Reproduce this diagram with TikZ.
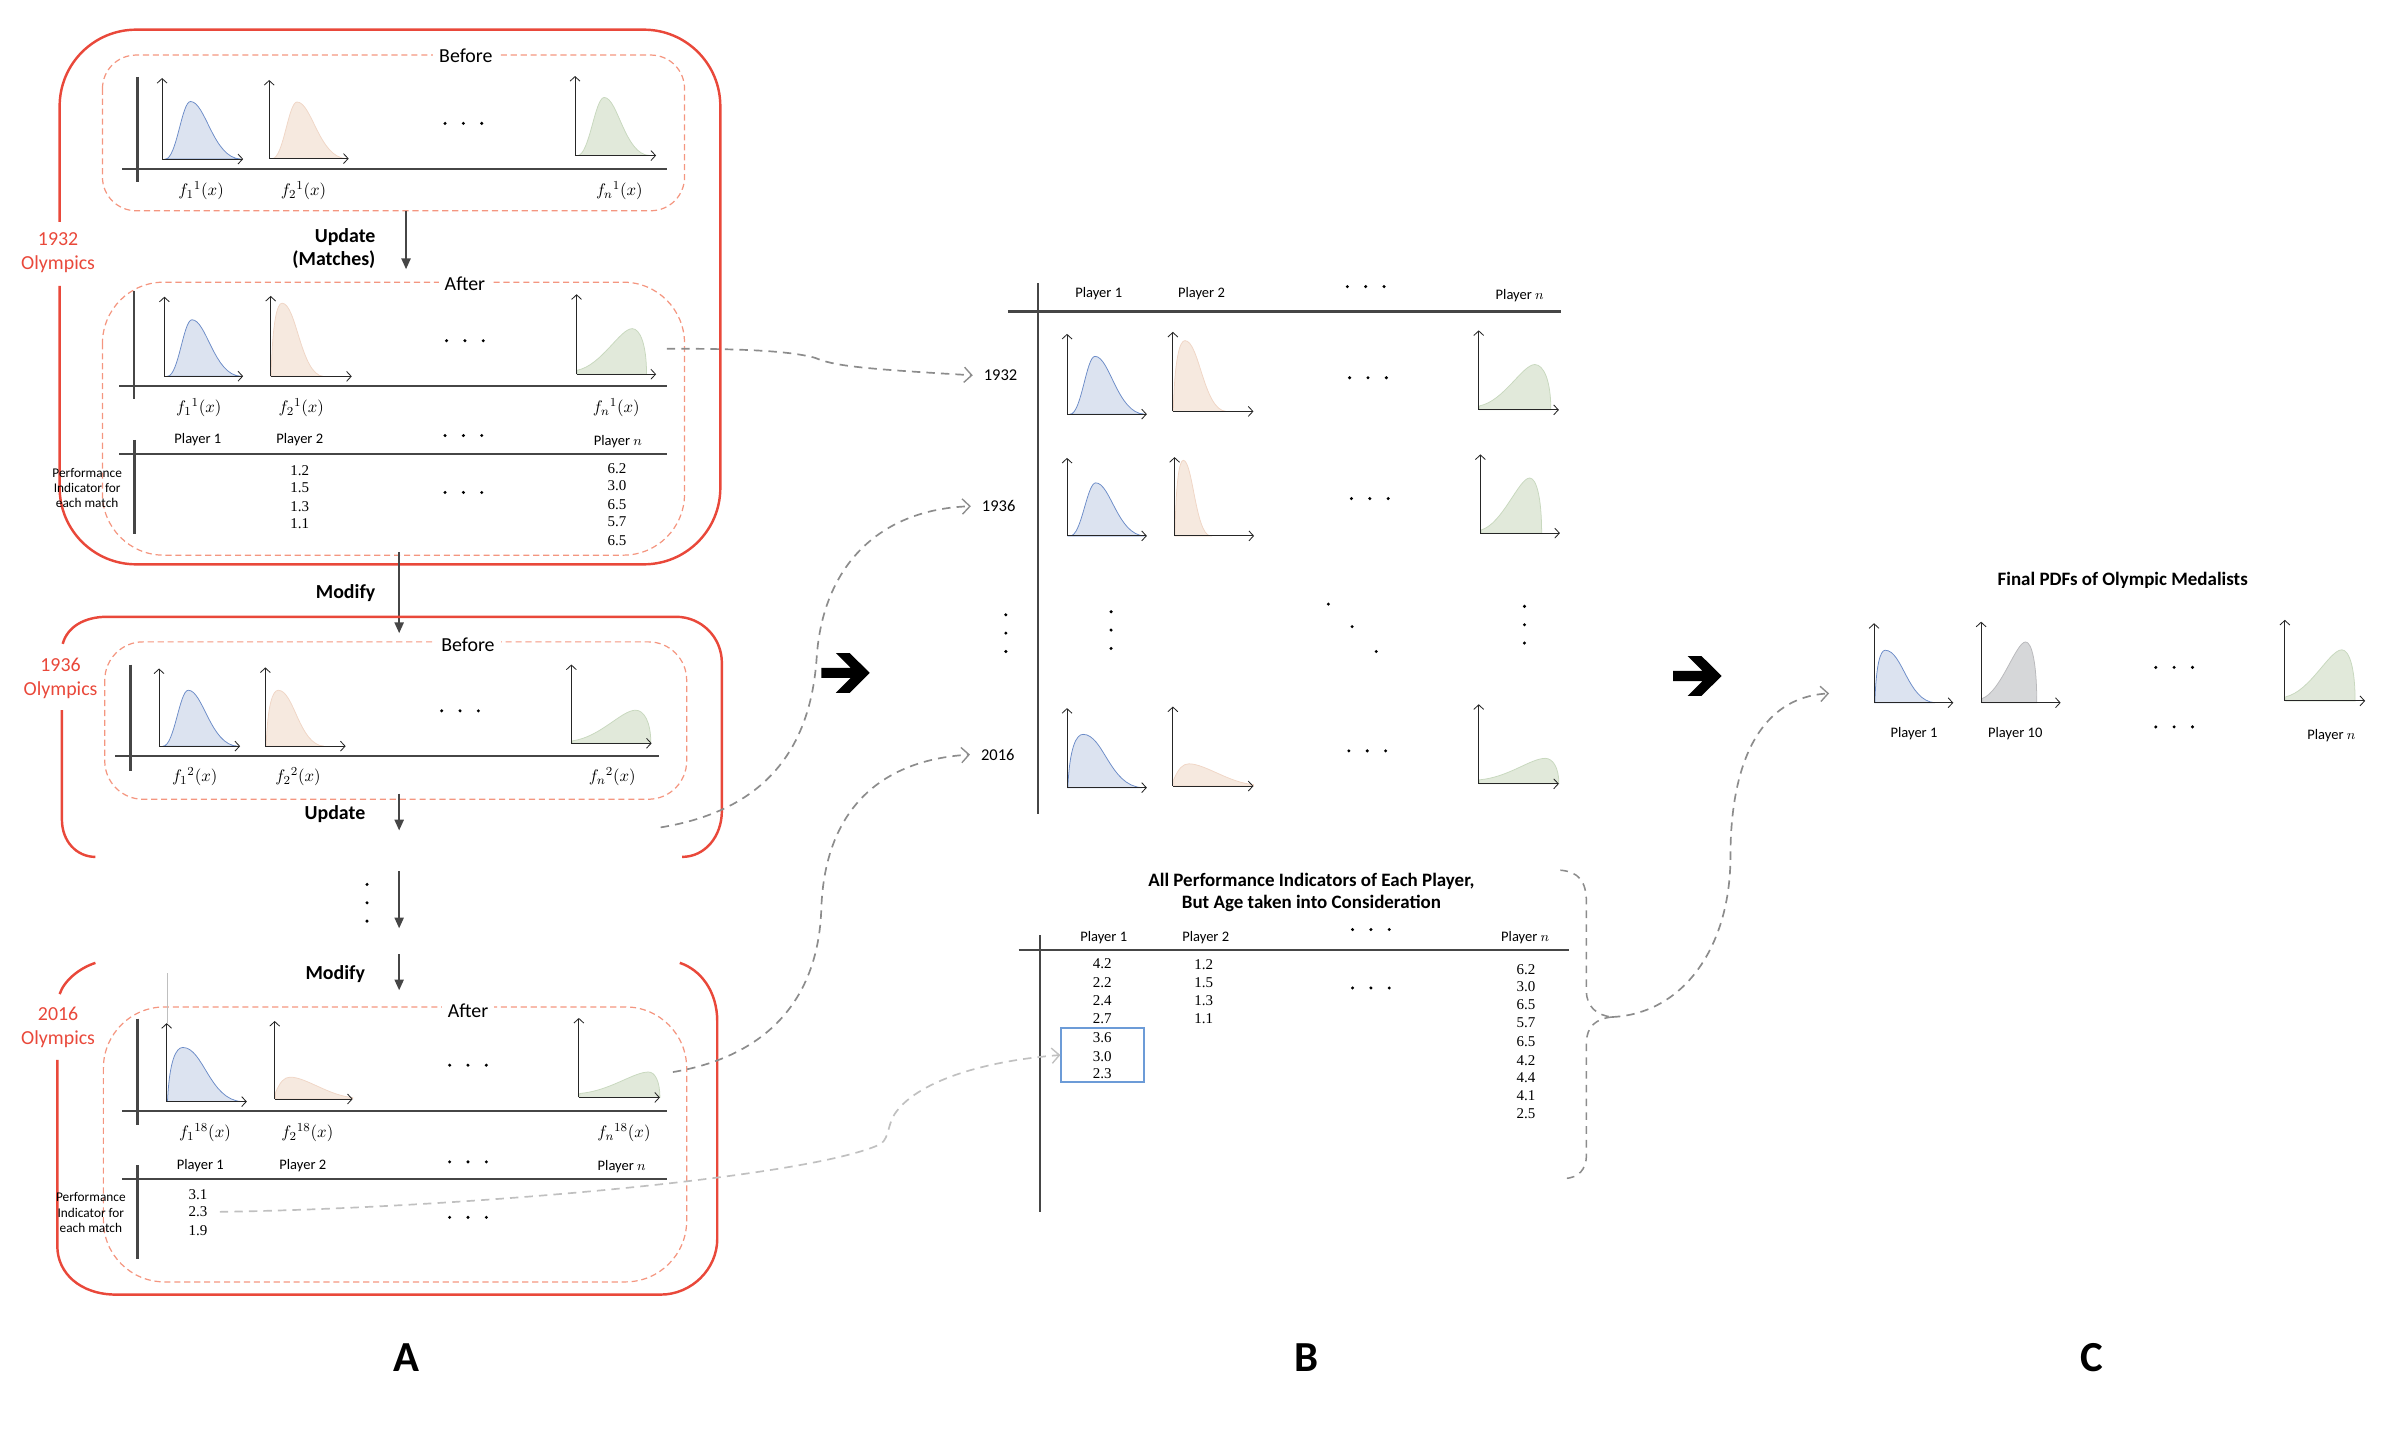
\documentclass[tikz,border=0pt]{standalone}
\usepackage{fontspec}
\setmainfont{Carlito}
\newfontfamily\numf{Liberation Serif}
\usetikzlibrary{arrows.meta}

\definecolor{oRed}{RGB}{233,72,58}
\definecolor{oSalmon}{RGB}{244,150,128}
\definecolor{bFill}{RGB}{220,227,240}
\definecolor{bLine}{RGB}{108,140,200}
\definecolor{pFill}{RGB}{246,233,223}
\definecolor{pLine}{RGB}{240,214,198}
\definecolor{gFill}{RGB}{225,233,218}
\definecolor{gLine}{RGB}{200,216,190}
\definecolor{kFill}{RGB}{214,215,217}
\definecolor{kLine}{RGB}{185,185,188}
\definecolor{axC}{RGB}{70,70,70}
\definecolor{cnC}{RGB}{140,140,140}
\definecolor{cnL}{RGB}{192,192,192}
\definecolor{boxB}{RGB}{108,155,215}

\tikzset{
 bluep/.style={fill=bFill, draw=bLine, line width=0.5pt},
 peachp/.style={fill=pFill, draw=pLine, line width=0.5pt},
 greenp/.style={fill=gFill, draw=gLine, line width=0.5pt},
 grayp/.style={fill=kFill, draw=kLine, line width=0.5pt},
 mini/.style={draw=black!85, line width=0.55pt, -{Straight Barb[length=3pt,width=6.5pt]}},
 bigax/.style={draw=axC, line width=1.5pt},
 olymp/.style={draw=oRed, line width=1.6pt},
 innerbox/.style={draw=oSalmon, line width=0.8pt, dash pattern=on 4pt off 2.5pt},
 conn/.style={draw=cnC, line width=1.1pt, dash pattern=on 5.5pt off 4pt, -{Straight Barb[length=5pt,width=10pt,line width=0.9pt]}},
 connl/.style={conn, draw=cnL},
 bracel/.style={draw=cnC, line width=1pt, dash pattern=on 5pt off 4pt},
 flow/.style={draw=axC, line width=1.1pt, -{Triangle[length=7pt,width=6pt]}},
 olab/.style={text=oRed, font=\fontsize{13}{16}\selectfont, align=center},
 tag/.style={font=\fontsize{13}{15}\selectfont, fill=white, inner sep=4pt},
 act/.style={font=\bfseries\fontsize{13}{15.5}\selectfont, align=right},
 fl/.style={font=\fontsize{11}{13}\selectfont},
 ph/.style={font=\fontsize{9.5}{11}\selectfont},
 num/.style={font=\numf\fontsize{9.8}{11}\selectfont, inner sep=1pt},
 perf/.style={font=\fontsize{8.7}{10}\selectfont, align=center},
 yr/.style={font=\fontsize{10.8}{12}\selectfont, inner sep=1pt},
 ttl/.style={font=\bfseries\fontsize{12.4}{14.2}\selectfont, align=center},
 panel/.style={font=\bfseries\fontsize{28}{30}\selectfont},
}

\newcommand\mplot[5]{\begin{scope}[shift={(#1,#2)},x=#3pt,y=#4pt]#5\draw[mini](0,0)--(0,1);\draw[mini](0,0)--(1,0);\end{scope}}
\newcommand\bellc[5]{\filldraw[#1] (#2,0) .. controls ({#2+0.45*(#3-#2)},0) and ({#3-0.35*(#3-#2)},#4) .. (#3,#4) .. controls ({#3+0.3*(#5-#3)},#4) and ({#3+0.45*(#5-#3)},0.01) .. (#5,0) -- cycle;}
\newcommand\skewr[5]{\filldraw[#1] (#2,0) .. controls ({#2+0.12*(#3-#2)},{0.75*#4}) and ({#3-0.45*(#3-#2)},#4) .. (#3,#4) .. controls ({#3+0.35*(#5-#3)},#4) and ({#3+0.45*(#5-#3)},0.02) .. (#5,0) -- cycle;}
\newcommand\skewl[5]{\filldraw[#1] (0.01,0) -- (0.01,#2) .. controls ({0.45*#3},{#2+0.12*(#4-#2)}) and ({0.78*#3},#4) .. (#3,#4) .. controls ({#3+0.55*(#5-#3)},#4) and (#5,{0.65*#4}) .. (#5,0) -- cycle;}
\newcommand\lowp[1]{\filldraw[#1] (0.01,0) -- (0.01,0.08) .. controls (0.07,0.22) and (0.12,0.28) .. (0.2,0.28) .. controls (0.4,0.28) and (0.7,0.04) .. (1,0.02) -- (1,0) -- cycle;}
\newcommand\hdts[2]{\foreach \q in {-12,0,12}{\fill ({#1+\q},#2) circle (1.1pt);}}
\newcommand\vdts[2]{\foreach \q in {-12,0,12}{\fill (#1,{#2+\q}) circle (1.1pt);}}
\newcommand\bigarrow[2]{\begin{scope}[shift={(#1,#2)}]\fill[black] (-16,-3.3) -- (3.2,-3.3) -- (-6.5,-13) -- (2.6,-13) -- (15.7,0) -- (2.6,13) -- (-6.5,13) -- (3.2,3.3) -- (-16,3.3) -- cycle;\end{scope}}

\begin{document}
\begin{tikzpicture}[x=1pt,y=-1pt]
\useasboundingbox (0,0) rectangle (1568,934);

%%%%%%%%%%%%%%%% PANEL A : 1932
\draw[olymp, rounded corners=50pt] (39,145) -- (39,19.4) -- (471,19.4) -- (471,369) -- (39,369) -- (39,187);
\node[olab] (o1932) at (38,165.3) {1932\\Olympics};

\draw[innerbox, rounded corners=22pt] (67,36) rectangle (447.6,137.8);
\node[tag] (bef1) at (304.6,36.5) {Before};
\draw[bigax] (90,50.3) -- (90,119);
\draw[bigax] (80,110.6) -- (436,110.6);
\mplot{106}{104}{53}{53}{\bellc{bluep}{0.04}{0.35}{0.71}{0.97}}
\mplot{176}{103.7}{52}{51.4}{\bellc{peachp}{0.04}{0.35}{0.72}{0.97}}
\mplot{376}{101.7}{53}{52}{\bellc{greenp}{0.03}{0.36}{0.73}{0.92}}
\hdts{303}{80.7}
\node[fl] (fa1) at (131.5,124.7) {$f_1{}^{1}(x)$};
\node[fl] (fa2) at (198.5,124.7) {$f_2{}^{1}(x)$};
\node[fl] (fan) at (405,124.7) {$f_n{}^{1}(x)$};

\coordinate (u1s) at (265.5,137.8);
\coordinate (u1e) at (265.5,176);
\draw[flow] (u1s) -- (u1e);
\node[act, anchor=east] (upd1) at (249,162.5) {Update\\(Matches)};

\draw[innerbox, rounded corners=40pt] (67,184.5) rectangle (447.6,363);
\node[tag] (aft1) at (304,185.6) {After};
\draw[bigax] (87.7,190) -- (87.7,261);
\draw[bigax] (78,252.6) -- (436,252.6);
\mplot{107.5}{246}{51.5}{52}{\bellc{bluep}{0.04}{0.35}{0.71}{0.97}}
\mplot{177}{246.1}{53}{52.6}{\skewr{peachp}{0.005}{0.14}{0.91}{0.65}}
\mplot{377}{244.7}{52}{52.3}{\skewl{greenp}{0.05}{0.70}{0.57}{0.88}}
\coordinate (c1s) at (436,228);
\hdts{304}{222.8}
\node[fl] (fb1) at (130,266.8) {$f_1{}^{1}(x)$};
\node[fl] (fb2) at (197,266.8) {$f_2{}^{1}(x)$};
\node[fl] (fbn) at (403,266.8) {$f_n{}^{1}(x)$};

\node[ph] (ta1) at (129.4,287.5) {Player 1};
\node[ph] (ta2) at (196,287.5) {Player 2};
\node[ph] (tan) at (404,288.5) {Player $n$};
\hdts{303}{284.8}
\draw[bigax] (78,297) -- (436,297);
\draw[bigax] (88,287.7) -- (88,349);
\node[perf] (perf1) at (57,319) {Performance\\Indicator for\\each match};
\node[num] (a21) at (196,307.6) {1.2};
\node[num] (a22) at (196,318.9) {1.5};
\node[num] (a23) at (196,331) {1.3};
\node[num] (a24) at (196,342.6) {1.1};
\node[num] (an1) at (403.4,306.2) {6.2};
\node[num] (an2) at (403.4,317.5) {3.0};
\node[num] (an3) at (403.4,329.9) {6.5};
\node[num] (an4) at (403.4,341.2) {5.7};
\node[num] (an5) at (403.4,353.6) {6.5};
\hdts{303}{322}

\coordinate (m1s) at (261,361);
\coordinate (m1e) at (261,414);
\draw[flow] (m1s) -- (m1e);
\node[act] (mod1) at (226,388) {Modify};

%%%%%%%%%%%%%%%% PANEL A : 1936
\draw[olymp] (41,421) .. controls (44,410) and (55,403.3) .. (70,403.3) -- (442,403.3) .. controls (458.6,403.3) and (472,416.7) .. (472,433.3) -- (472,530.3) .. controls (472,546.9) and (461,560.3) .. (446,560.3);
\draw[olymp] (40.5,464.4) -- (40.5,536) .. controls (40.5,550) and (50,560.3) .. (62.4,560.3);
\node[olab] (o1936) at (39.6,443.5) {1936\\Olympics};
\draw[innerbox, rounded corners=25pt] (68.5,419.7) rectangle (449,522.6);
\node[tag] (bef2) at (306,421.8) {Before};
\draw[bigax] (85.3,434.5) -- (85.3,504.3);
\draw[bigax] (75.5,494.4) -- (430.8,494.4);
\mplot{104}{487.9}{53}{50.8}{\bellc{bluep}{0.05}{0.36}{0.72}{0.97}}
\mplot{173.5}{487.9}{52.5}{51.5}{\skewr{peachp}{0.01}{0.16}{0.71}{0.73}}
\mplot{373.6}{486}{52.5}{51.5}{\skewl{greenp}{0.03}{0.80}{0.42}{0.99}}
\hdts{300.8}{464.8}
\node[fl] (fc1) at (127.3,508) {$f_1{}^{2}(x)$};
\node[fl] (fc2) at (194.9,508) {$f_2{}^{2}(x)$};
\node[fl] (fcn) at (400.4,508) {$f_n{}^{2}(x)$};
\coordinate (u2s) at (261,519);
\coordinate (u2e) at (261,543);
\draw[flow] (u2s) -- (u2e);
\node[act] (upd2) at (219,532) {Update};
\coordinate (c2s) at (432,541);

\vdts{240}{590.3}
\coordinate (d1s) at (261,569.6);
\coordinate (d1e) at (261,607);
\draw[flow] (d1s) -- (d1e);

%%%%%%%%%%%%%%%% PANEL A : 2016
\coordinate (m2s) at (261,624);
\coordinate (m2e) at (261,647.5);
\draw[flow] (m2s) -- (m2e);
\node[act] (mod2) at (219.2,636.6) {Modify};
\draw[olymp] (62.4,629.6) .. controls (52,633) and (42,641) .. (39,650);
\draw[olymp] (37.5,693) -- (37.5,815) .. controls (37.5,832) and (52,846.5) .. (76,846.5) -- (432,846.5) .. controls (452,846.5) and (469,830) .. (469,810) -- (469,668) .. controls (469,648) and (458,634) .. (444.5,629.6);
\node[olab] (o2016) at (38,671.8) {2016\\Olympics};
\draw[innerbox, rounded corners=40pt] (67.6,658.4) rectangle (449,838.2);
\node[tag] (aft2) at (306,660.6) {After};
\draw[black!25, line width=0.4pt] (109.6,636.5) -- (109.6,669);
\draw[bigax] (90,666) -- (90,735.6);
\draw[bigax] (80,726.4) -- (436,726.4);
\mplot{109}{720.3}{52.4}{51.3}{\skewr{bluep}{0.01}{0.20}{0.69}{0.94}}
\mplot{179.6}{718.6}{51}{51}{\lowp{peachp}}
\mplot{378.5}{717.6}{53}{52}{\skewl{greenp}{0.05}{0.86}{0.32}{1.0}}
\coordinate (c3s) at (440,701);
\hdts{306}{696.5}
\node[fl] (fd1) at (134,740.8) {$f_1{}^{18}(x)$};
\node[fl] (fd2) at (201,740.8) {$f_2{}^{18}(x)$};
\node[fl] (fdn) at (408,740.8) {$f_n{}^{18}(x)$};
\node[ph] (tb1) at (131,762) {Player 1};
\node[ph] (tb2) at (198,762) {Player 2};
\node[ph] (tbn) at (406.5,763) {Player $n$};
\hdts{306}{759.7}
\draw[bigax] (80,771.1) -- (436,771.1);
\draw[bigax] (90,762) -- (90,823);
\node[perf] (perf2) at (59.4,793) {Performance\\Indicator for\\each match};
\node[num] (b11) at (129.4,781) {3.1};
\node[num] (n23) at (129.4,792.4) {2.3};
\node[num] (b13) at (129.4,804.8) {1.9};
\hdts{306}{796}

%%%%%%%%%%%%%%%% PANEL B
\draw[bigax] (678.8,185.3) -- (678.8,532);
\draw[bigax] (659,203.7) -- (1020.8,203.7);
\node[ph] (h1) at (718.4,191.9) {Player 1};
\node[ph] (h2) at (785.6,191.9) {Player 2};
\node[ph] (hn) at (993.7,193) {Player $n$};
\hdts{893}{187.4}
\node[yr] (y1932) at (654.2,245.4) {1932};
\node[yr] (y1936) at (653,331) {1936};
\node[yr] (y2016) at (652.4,493.4) {2016};
\vdts{657.7}{414}

\mplot{697.7}{270.8}{52.2}{52.5}{\bellc{bluep}{0.04}{0.35}{0.72}{0.97}}
\mplot{766.9}{269}{52.7}{52}{\skewr{peachp}{0.005}{0.15}{0.89}{0.66}}
\mplot{966.9}{268}{52.4}{52}{\skewl{greenp}{0.05}{0.70}{0.57}{0.90}}
\hdts{894.5}{247}

\mplot{697.7}{350.4}{52.2}{51}{\bellc{bluep}{0.04}{0.36}{0.68}{0.97}}
\mplot{768}{350.4}{52}{51.5}{\skewr{peachp}{0.005}{0.11}{0.96}{0.45}}
\mplot{968}{348.6}{52}{51.5}{\skewl{greenp}{0.04}{0.62}{0.70}{0.77}}
\hdts{895.7}{326}

\vdts{726.5}{412}
\fill (868.6,395) circle (1.1pt);
\fill (884.1,409.7) circle (1.1pt);
\fill (899.9,426) circle (1.1pt);
\vdts{996.8}{408.5}

\mplot{697.7}{515}{52.2}{52}{\skewr{bluep}{0.01}{0.20}{0.67}{0.94}}
\mplot{766.9}{514}{52.7}{52}{\lowp{peachp}}
\mplot{966.9}{512.5}{52.4}{52}{\skewl{greenp}{0.05}{0.83}{0.32}{1.0}}
\hdts{894}{491}

\node[ttl] (ttlB) at (857.5,583.7) {All Performance Indicators of Each Player,\\But Age taken into Consideration};
\draw[bigax] (679.8,611.5) -- (679.8,792.5);
\draw[bigax] (666,621) -- (1025.8,621);
\node[ph] (k1) at (721.7,613.1) {Player 1};
\node[ph] (k2) at (788.4,613.1) {Player 2};
\node[ph] (kn) at (997.3,613.1) {Player $n$};
\hdts{896.4}{607.8}
\node[num] (p11) at (720.7,630) {4.2};
\node[num] (p12) at (720.7,642.4) {2.2};
\node[num] (p13) at (720.7,654.6) {2.4};
\node[num] (p14) at (720.7,665.9) {2.7};
\node[num] (p15) at (720.7,678.4) {3.6};
\node[num] (p16) at (720.7,690.6) {3.0};
\node[num] (p17) at (720.7,701.9) {2.3};
\node[draw=boxB, line width=1.3pt, minimum width=54.3pt, minimum height=34.9pt, inner sep=0pt] (selbox) at (721.15,689.85) {};
\node[num] (p21) at (787.1,631) {1.2};
\node[num] (p22) at (787.1,642.4) {1.5};
\node[num] (p23) at (787.1,654.6) {1.3};
\node[num] (p24) at (787.1,665.9) {1.1};
\hdts{896.4}{646}
\node[num] (pn1) at (997.8,633.7) {6.2};
\node[num] (pn2) at (997.8,644.8) {3.0};
\node[num] (pn3) at (997.8,657.2) {6.5};
\node[num] (pn4) at (997.8,668.6) {5.7};
\node[num] (pn5) at (997.8,681.2) {6.5};
\node[num] (pn6) at (997.8,693.2) {4.2};
\node[num] (pn7) at (997.8,704.5) {4.4};
\node[num] (pn8) at (997.8,716.7) {4.1};
\node[num] (pn9) at (997.8,728) {2.5};

\coordinate (btip) at (1054,665);
\draw[bracel] (1020.3,569) .. controls (1032,570) and (1037.3,576) .. (1037.3,590) -- (1037.3,648) .. controls (1037.3,658) and (1044,664) .. (btip);
\draw[bracel] (btip) .. controls (1044,666) and (1037.3,671) .. (1037.3,682) -- (1037.3,755) .. controls (1037.3,765) and (1032,770) .. (1023.5,770.6);

%%%%%%%%%%%%%%%% PANEL C
\node[ttl] (ttlC) at (1388,379.3) {Final PDFs of Olympic Medalists};
\mplot{1225.4}{459.5}{51.8}{52}{\skewr{bluep}{0.01}{0.14}{0.66}{0.77}}
\mplot{1295.4}{459.5}{52}{53}{\skewl{grayp}{0.05}{0.56}{0.75}{0.70}}
\mplot{1494}{458.3}{52.5}{53}{\skewl{greenp}{0.05}{0.71}{0.63}{0.875}}
\coordinate (cin) at (1222,453.4);
\hdts{1421.6}{436.4}
\hdts{1421.6}{475.3}
\node[ph] (cl1) at (1251.5,479.6) {Player 1};
\node[ph] (cl2) at (1317.7,479.6) {Player 10};
\node[ph] (cln) at (1524.4,480.7) {Player $n$};

%%%%%%%%%%%%%%%% CONNECTORS
\draw[conn] (c1s) .. controls (480,228) and (515,229) .. (533,234) .. controls (545,239) and (560,241) .. ([xshift=-6pt]y1932.west);
\draw[conn] (c2s) .. controls (500,530) and (530,490) .. (534,430) .. controls (538,370) and (575,333) .. ([xshift=-6pt]y1936.west);
\draw[conn] (c3s) .. controls (505,690) and (535,650) .. (537,595) .. controls (539,530) and (575,497) .. ([xshift=-6pt]y2016.west);
\draw[connl] ([xshift=7pt]n23.east) .. controls (300,790) and (530,770) .. (576,748) .. controls (582,743) and (580,735) .. (586,727) .. controls (600,708) and (640,694) .. (selbox.west);
\draw[conn] (btip) .. controls (1100,663) and (1131.5,620) .. (1131.5,560) .. controls (1131.5,500) and (1150,456) .. ([xshift=-26pt]cin);

\bigarrow{553}{440}
\bigarrow{1110}{442}

\node[panel] (pA) at (266,888) {A};
\node[panel] (pB) at (854,888) {B};
\node[panel] (pC) at (1368,888) {C};
\end{tikzpicture}
\end{document}
